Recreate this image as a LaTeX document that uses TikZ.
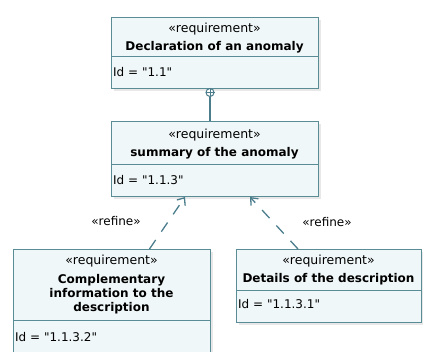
\documentclass[tikz,border=0pt]{standalone}
\usepackage{fontspec}
\setmainfont{DejaVu Sans}[Ligatures=TeXOff]
\usetikzlibrary{arrows.meta,shadows}
\definecolor{bordc}{RGB}{90,140,150}
\definecolor{boxfill}{RGB}{240,247,248}
\definecolor{linec}{RGB}{75,125,140}
\newcommand{\dq}{\symbol{34}}
\begin{document}
\begin{tikzpicture}[x=1pt,y=-1pt,
  reqbox/.style={draw=bordc, line width=1.3pt, fill=boxfill, anchor=north west, inner sep=0pt,
    drop shadow={opacity=0.18, shadow xshift=2pt, shadow yshift=-2pt}},
  sepline/.style={draw=bordc, line width=1pt},
  stereo/.style={font=\fontsize{12.5}{14}\selectfont, inner sep=0pt},
  title/.style={font=\fontsize{12}{14}\selectfont\bfseries, inner sep=0pt, align=center},
  idtext/.style={font=\fontsize{12}{14}\selectfont, inner sep=0pt, anchor=west},
  refine/.style={draw=linec, line width=1.3pt, dash pattern=on 11pt off 10pt,
    -{Straight Barb[length=6pt,width=10pt]}},
  lbl/.style={font=\fontsize{12}{14}\selectfont, inner sep=0pt}
]
\useasboundingbox (0,0) rectangle (423,352);

% Box 1
\node[reqbox, minimum width=207pt, minimum height=71pt] (b1) at (111,17) {};
\draw[sepline] (b1.west |- 0,57) -- (b1.east |- 0,57);
\node[stereo] (s1) at (214.5,29) {«requirement»};
\node[title] (t1) at (214.5,47) {Declaration of an anomaly};
\node[idtext] (i1) at (113,72) {Id = \dq 1.1\dq};

% Box 2
\node[reqbox, minimum width=207pt, minimum height=75pt] (b2) at (111,121) {};
\draw[sepline] (b2.west |- 0,165) -- (b2.east |- 0,165);
\node[stereo] (s2) at (214.5,135) {«requirement»};
\node[title] (t2) at (214.5,153) {summary of the anomaly};
\node[idtext] (i2) at (113,180) {Id = \dq 1.1.3\dq};

% Box 3 (bottom cut off by the page)
\node[reqbox, minimum width=197pt, minimum height=110pt] (b3) at (13,249) {};
\draw[sepline] (b3.west |- 0,321) -- (b3.east |- 0,321);
\node[stereo] (s3) at (111.5,261) {«requirement»};
\node[title] (t3) at (111.5,294) {Complementary\\information to the\\description};
\node[idtext] (i3) at (15,337) {Id = \dq 1.1.3.2\dq};

% Box 4
\node[reqbox, minimum width=185pt, minimum height=73pt] (b4) at (236,249) {};
\draw[sepline] (b4.west |- 0,291) -- (b4.east |- 0,291);
\node[stereo] (s4) at (328.5,261) {«requirement»};
\node[title] (t4) at (328.5,279) {Details of the description};
\node[idtext] (i4) at (238,304) {Id = \dq 1.1.3.1\dq};

% Containment
\node[draw=linec, line width=1pt, circle, minimum size=8pt, inner sep=0pt, fill=white] (c) at (210,92.5) {};
\draw[linec, line width=1pt] (c.north) -- (c.south) (c.west) -- (c.east);
\draw[linec, line width=1.3pt] (c.south) -- (c.south |- b2.north);

% Refine dependencies
\coordinate (a3) at (149.5,249);
\coordinate (a2l) at (185,197);
\coordinate (a4) at (298,249);
\coordinate (a2r) at (250,197);
\draw[refine] (a3) -- (a2l);
\draw[refine] (a4) -- (a2r);
\node[lbl] (r1) at (116,221) {«refine»};
\node[lbl] (r2) at (327,222) {«refine»};
\end{tikzpicture}
\end{document}
